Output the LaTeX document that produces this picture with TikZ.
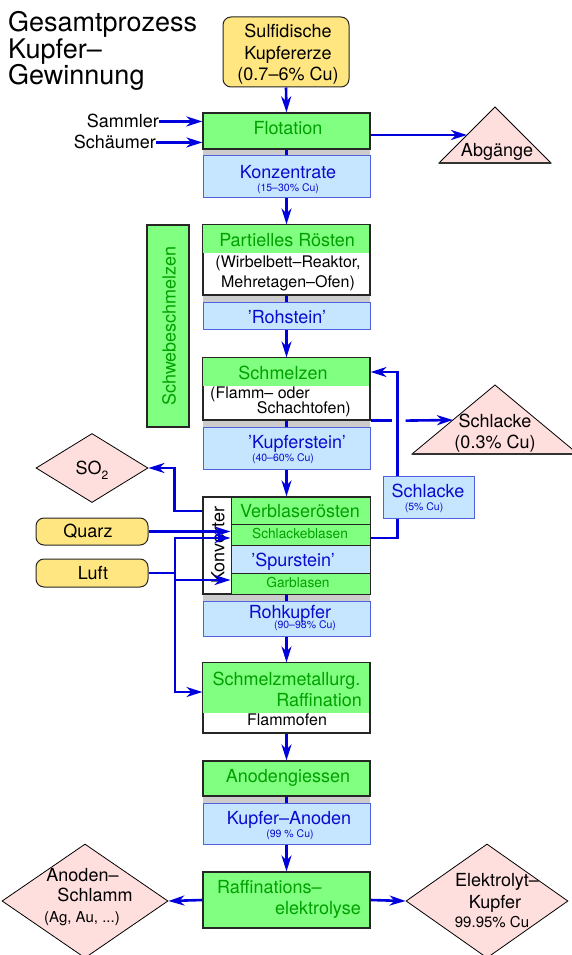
\documentclass[tikz,border=0pt]{standalone}
\usepackage{fontspec}
\setmainfont{TeX Gyre Heros}
\usetikzlibrary{arrows.meta,shapes.geometric}
\definecolor{gfill}{HTML}{80FF80}
\definecolor{gtext}{HTML}{00A000}
\definecolor{bfill}{HTML}{C6E6FF}
\definecolor{bline}{HTML}{5060E0}
\definecolor{btext}{HTML}{0A0ACC}
\definecolor{yfill}{HTML}{FFE680}
\definecolor{pfill}{HTML}{FFDEDE}
\definecolor{arr}{HTML}{0000DD}
\definecolor{stripc}{HTML}{CCCCCC}
\newcommand\ftitle{\fontsize{27}{26.5}\selectfont}
\newcommand\fmain{\fontsize{18}{21.5}\selectfont}
\newcommand\fdesc{\fontsize{16}{20}\selectfont}
\newcommand\fmid{\fontsize{13.7}{16}\selectfont}
\newcommand\fsmall{\fontsize{10.5}{12}\selectfont}
\newcommand\fnote{\fontsize{15}{18}\selectfont}
\begin{document}
\begin{tikzpicture}[x=1pt,y=-1pt,
  boxg/.style={draw=black!85, fill=gfill, line width=1.2pt, minimum width=167pt, inner sep=0pt},
  boxb/.style={draw=bline, fill=bfill, line width=1pt, minimum width=167pt, inner sep=0pt},
  boxw/.style={draw=black!85, line width=1.2pt, minimum width=167pt, inner sep=0pt},
  boxy/.style={draw=black!85, fill=yfill, line width=1pt, rounded corners=8pt, inner sep=0pt},
  stripbox/.style={fill=stripc, minimum width=167pt, inner sep=0pt},
  pinkd/.style={diamond, draw=black, fill=pfill, line width=0.8pt, inner sep=0pt},
  txt/.style={inner sep=0pt, anchor=base},
  gt/.style={txt, text=gtext},
  bt/.style={txt, text=btext},
  flow/.style={draw=arr, line width=2.6pt, -{Stealth[length=16pt,width=10pt,inset=5pt]}},
  link/.style={draw=arr, line width=2.6pt}]
\useasboundingbox (0,0) rectangle (572,955);

% title (base anchor = baseline of last line)
\node[txt, anchor=base west, align=left, font=\ftitle] (title) at (8,85) {Gesamtprozess\\Kupfer–\\Gewinnung};

% ore
\node[boxy, minimum width=126pt, minimum height=70pt] (sulf) at (286,52) {};
\node[txt, align=center, font=\fmain] (sulft) at (288,81) {Sulfidische\\Kupfererze\\(0.7–6\% Cu)};

% flotation
\node[stripbox, minimum height=6pt] (st1) at (286.5,152) {};
\node[boxg, minimum height=36pt] (flot) at (286.5,131) {};
\node[gt, font=\fmain] (flott) at (288,135) {Flotation};
\node[boxb, minimum height=42pt] (konz) at (286.5,176) {};
\node[bt, font=\fmain] (konzt) at (288,178) {Konzentrate};
\node[bt, font=\fsmall] (konzs) at (288,191.5) {(15–30\% Cu)};

\node[txt, anchor=base east, font=\fmain] (sam) at (159,128) {Sammler};
\node[txt, anchor=base east, font=\fmain] (sch) at (156,149) {Schäumer};

% Abgaenge
\draw[fill=pfill, line width=0.8pt] (439,163) -- (495,107) -- (551,163) -- cycle;
\draw[line width=1.4pt, black!80] (439,163) -- (551,163);
\coordinate (abgin) at (467,135);
\node[txt, font=\fmain] (abgt) at (497,156) {Abgänge};

% Schwebeschmelzen
\node[boxg, minimum width=42pt, minimum height=202pt] (schweb) at (168,326) {};
\node[inner sep=0pt, rotate=90, text=gtext, font=\fmain] (schwebt) at (169,326) {Schwebeschmelzen};

% partielles roesten
\node[stripbox, minimum height=7pt] (st2) at (286.5,298.5) {};
\node[boxw, minimum height=70pt] (pr) at (286.5,260) {};
\fill[gfill] ([shift={(0.6pt,-0.6pt)}]pr.north west) rectangle (369.4,253);
\draw[black!85, line width=1.2pt] (pr.north west) rectangle (pr.south east);
\node[gt, font=\fmain] (prt) at (287,246) {Partielles Rösten};
\node[txt, align=center, font=\fdesc] (prd) at (288,287.3) {(Wirbelbett–Reaktor,\\Mehretagen–Ofen)};

\node[boxb, minimum height=27pt] (roh) at (286.5,315.5) {};
\node[bt, font=\fmain] (roht) at (287,323) {'Rohstein'};

% schmelzen
\node[stripbox, minimum height=7pt] (st3) at (286.5,423.5) {};
\node[boxw, minimum height=62pt] (schm) at (286.5,389) {};
\fill[gfill] ([shift={(0.6pt,-0.6pt)}]schm.north west) rectangle (369.4,386);
\draw[black!85, line width=1.2pt] (schm.north west) rectangle (schm.south east);
\node[gt, font=\fmain] (schmt) at (283,379) {Schmelzen};
\node[txt, anchor=base west, font=\fdesc] (schm1) at (210,398) {(Flamm– oder};
\node[txt, anchor=base east, font=\fdesc] (schm2) at (351,413) {Schachtofen)};

\node[boxb, minimum height=42pt] (kst) at (286.5,448) {};
\node[bt, font=\fmain] (kstt) at (297,448) {'Kupferstein'};
\node[bt, font=\fsmall] (ksts) at (283,461.5) {(40–60\% Cu)};

% Schlacke 0.3
\draw[fill=pfill, line width=0.8pt] (412,454) -- (495,385) -- (578,454) -- cycle;
\draw[line width=1.4pt, black!80] (412,454) -- (578,454);
\coordinate (slin) at (453,420);
\node[txt, align=center, font=\fmain] (sl03t) at (495,448) {Schlacke\\[-0.5pt](0.3\% Cu)};

% Konverter
\node[stripbox, minimum height=7pt] (st4) at (286.5,597.5) {};
\node[boxw, fill=white, minimum height=97pt] (konv) at (286.5,545.5) {};
\node[boxg, line width=1pt, minimum width=139pt, minimum height=27pt] (vb) at (300.5,510.5) {};
\node[boxg, line width=1pt, minimum width=139pt, minimum height=21pt] (slb) at (300.5,534.5) {};
\node[boxb, draw=black!85, line width=1pt, minimum width=139pt, minimum height=28pt] (sps) at (300.5,559) {};
\node[boxg, line width=1pt, minimum width=139pt, minimum height=21pt] (garb) at (300.5,583.5) {};
\draw[black!85, line width=1.2pt] (konv.north west) rectangle (konv.south east);
\node[gt, font=\fmain] (vbt) at (300,517) {Verblaserösten};
\node[gt, font=\fmid] (slbt) at (300,538.5) {Schlackeblasen};
\node[bt, font=\fmain] (spst) at (293,566) {'Spurstein'};
\node[gt, font=\fmid] (garbt) at (298,587.5) {Garblasen};
\node[inner sep=0pt, rotate=90, font=\fmain] (konvt) at (218,545) {Konverter};

\node[boxb, minimum height=35pt] (rohk) at (286.5,618.5) {};
\node[bt, font=\fmain] (rohkt) at (290,618) {Rohkupfer};
\node[bt, font=\fsmall] (rohks) at (305,628.5) {(90–98\% Cu)};

% Schlacke 5%
\node[boxb, minimum width=91pt, minimum height=42pt] (sl5) at (428.5,497) {};
\node[bt, font=\fmain] (sl5t) at (428,497) {Schlacke};
\node[bt, font=\fsmall] (sl5s) at (424,510.5) {(5\% Cu)};

% SO2, Quarz, Luft
\node[pinkd, minimum width=112pt, minimum height=69pt] (so2) at (92,468) {};
\node[txt, font=\fmain] (so2t) at (92,474) {SO\raisebox{-5pt}{\fontsize{12}{12}\selectfont 2}};
\node[boxy, minimum width=112pt, minimum height=27pt] (quarz) at (92,531.5) {};
\node[txt, font=\fmain] (quarzt) at (88,537.5) {Quarz};
\node[boxy, minimum width=112pt, minimum height=28pt] (luft) at (92,573) {};
\node[txt, font=\fmain] (luftt) at (93,579) {Luft};

% Raffination
\node[boxw, minimum height=70pt] (smr) at (286.5,698) {};
\fill[gfill] ([shift={(0.6pt,-0.6pt)}]smr.north west) rectangle (369.4,713);
\draw[black!85, line width=1.2pt] (smr.north west) rectangle (smr.south east);
\node[gt, font=\fmain] (smr1) at (286.5,685) {Schmelzmetallurg.};
\node[gt, anchor=base east, font=\fmain] (smr2) at (362,706) {Raffination};
\node[txt, font=\fdesc] (smr3) at (287,725.5) {Flammofen};

\node[stripbox, minimum height=7pt] (st5) at (286.5,799.5) {};
\node[boxg, minimum height=35pt] (ag) at (286.5,778.5) {};
\node[gt, font=\fmain] (agt) at (288,782) {Anodengiessen};
\node[boxb, minimum height=41pt] (ka) at (286.5,823.5) {};
\node[bt, font=\fmain] (kat) at (289,824) {Kupfer–Anoden};
\node[bt, font=\fsmall] (kas) at (290,837.5) {(99 \% Cu)};

\node[boxg, minimum height=56pt] (raf) at (286.5,900) {};
\node[gt, anchor=base west, font=\fmain] (raf1) at (217,893) {Raffinations–};
\node[gt, anchor=base east, font=\fmain] (raf2) at (361,914) {elektrolyse};

\node[pinkd, minimum width=166pt, minimum height=114pt] (ans) at (85,901) {};
\node[txt, font=\fmain] (ans1) at (82.5,881) {Anoden–};
\node[txt, font=\fmain] (ans2) at (95,901) {Schlamm};
\node[txt, font=\fnote] (ans3) at (82,922) {(Ag, Au, ...)};
\node[pinkd, minimum width=162pt, minimum height=114pt] (elk) at (487,901) {};
\node[txt, font=\fmain] (elk1) at (497,886) {Elektrolyt–};
\node[txt, font=\fmain] (elk2) at (495,908) {Kupfer};
\node[txt, font=\fnote] (elk3) at (492,927) {99.95\% Cu};

% connectors main column
\draw[flow] (sulf.south) -- (flot.north);
\draw[flow] (sam.east) -- (sam.east -| flot.west);
\draw[flow] (sch.east) -- (sch.east -| flot.west);
\draw[flow] (flot.east |- abgin) -- (abgin);
\draw[link] (flot.south) -- (konz.north);
\draw[flow] (konz.south) -- (pr.north);
\draw[link] (pr.south) -- (roh.north);
\draw[flow] (roh.south) -- (schm.north);
\draw[link] (schm.south) -- (kst.north);
\draw[flow] (kst.south) -- (konv.north);
\draw[link] (konv.south) -- (rohk.north);
\draw[flow] (rohk.south) -- (smr.north);
\draw[flow] (smr.south) -- (ag.north);
\draw[link] (ag.south) -- (ka.north);
\draw[flow] (ka.south) -- (raf.north);
\draw[flow] (raf.west) -- (ans.east);
\draw[flow] (raf.east) -- (elk.west);

% slag loops
\draw[link] (schm.south east) -- ([xshift=21pt]schm.south east);
\draw[flow] ([xshift=35pt]schm.south east) -- (slin);
\draw[link] ([yshift=-3.5pt]slb.east) -| ([xshift=15pt]sl5.south west);
\draw[flow] ([xshift=15pt]sl5.north west) |- ([yshift=17pt]schm.east);

% SO2, Quarz, Luft
\draw[flow] ([yshift=34.5pt]konv.west) -- ++(-28,0) |- (so2.east);
\draw[flow] (quarz.east) -- (quarz.east -| slb.west);
\coordinate (lj) at (175,573);
\draw[link] (luft.east) -- (lj);
\draw[flow] (lj) |- ([yshift=-3.5pt]slb.west);
\draw[flow] (lj) |- ([yshift=3.5pt]garb.west);
\draw[flow] (lj) |- ([yshift=6pt]smr.west);
\end{tikzpicture}
\end{document}
